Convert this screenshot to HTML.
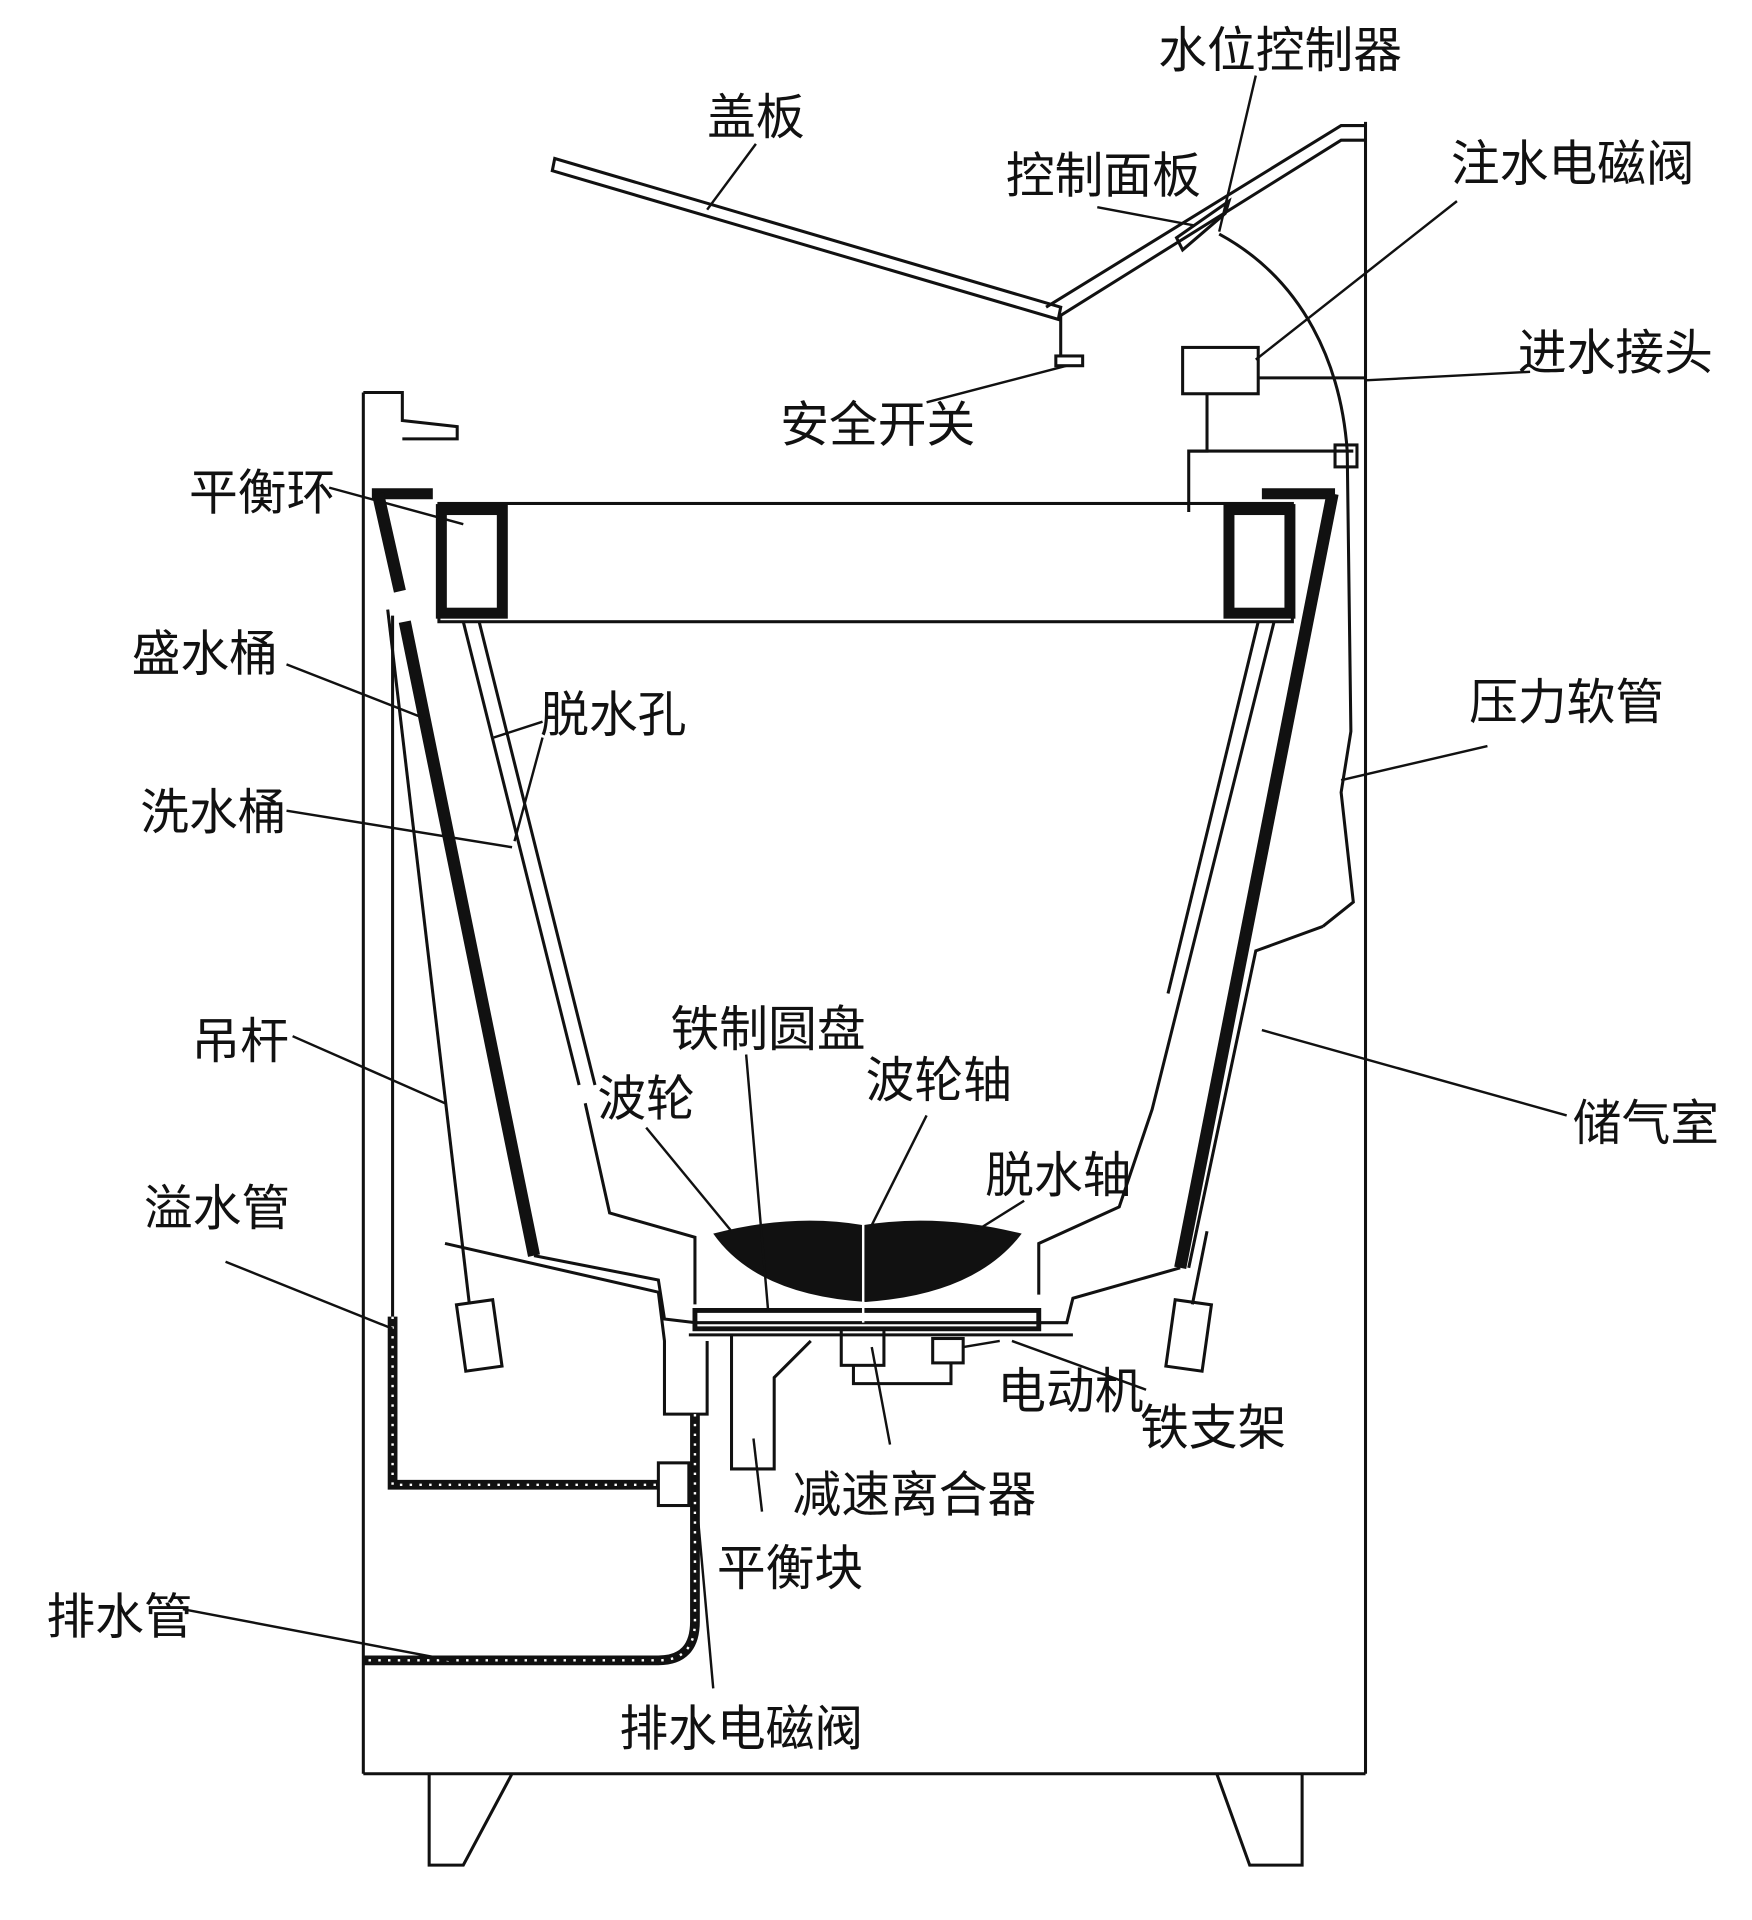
<!DOCTYPE html>
<html><head><meta charset="utf-8"><style>
html,body{margin:0;padding:0;background:#fff;width:1752px;height:1920px;overflow:hidden}
svg{display:block}
text{font-family:"Liberation Sans","Noto Sans CJK SC",sans-serif;font-size:40px;fill:#111}
</style></head><body>
<svg width="1752" height="1920" viewBox="0 0 1437 1575" preserveAspectRatio="none" xmlns="http://www.w3.org/2000/svg">
<g fill="none" stroke="#111" stroke-width="2.5">
<!-- cabinet -->
<polyline points="298,322 330,322 330,345 375,350 375,360 330,360"/>
<line x1="298" y1="322" x2="298" y2="1455"/>
<line x1="1120" y1="100" x2="1120" y2="1455"/>
<line x1="298" y1="1455" x2="1120" y2="1455"/>
<polyline points="352,1455 352,1530 380,1530 420,1455"/>
<polyline points="998,1455 1025,1530 1068,1530 1068,1455"/>
<!-- lid -->
<polygon points="455,130 870,252 868,262 453,140"/>
<line x1="870" y1="258" x2="870" y2="292"/><rect x="866" y="292" width="22" height="8"/>
<!-- control panel -->
<polyline points="858,252 1100,103 1120,103"/>
<polyline points="868,260 1100,115 1120,115"/>
<polygon points="965,195 1008,165 1005,175 970,205"/>
<!-- water level tube -->
<path d="M1000,192 C1070,230 1100,300 1105,370 L1108,600 1100,650 1110,740 1085,760"/>
<!-- inlet valve -->
<rect x="970" y="285" width="62" height="38"/>
<line x1="1032" y1="310" x2="1120" y2="310"/>
<polyline points="990,323 990,370 975,370 975,420"/>
<polyline points="975,370 1110,370"/>
<rect x="1095" y="365" width="18" height="18"/>
<!-- tub top -->
<rect x="360" y="413" width="700" height="97"/>
</g>
<g fill="none" stroke="#111" stroke-width="9">
<rect x="362" y="418" width="50" height="85"/>
<rect x="1008" y="418" width="50" height="85"/>
<polyline points="305,405 355,405"/>
<polyline points="1035,405 1095,405"/>
</g>
<g fill="none" stroke="#111" stroke-width="10">
<line x1="310" y1="405" x2="328" y2="485"/>
<line x1="332" y1="510" x2="438" y2="1030"/>
<line x1="1093" y1="405" x2="968" y2="1040"/>
</g>
<g fill="none" stroke="#111" stroke-width="2.5">
<!-- inner tub -->
<polyline points="380,510 475,890"/><polyline points="480,905 500,995 570,1015 570,1070"/>
<polyline points="1045,510 945,910 918,990 852,1020 852,1062"/>
<polyline points="393,510 488,890"/>
<polyline points="1032,510 958,815"/>
<!-- air chamber -->
<polyline points="1085,760 1030,780 975,1040"/>
<!-- outer bottom -->
<polyline points="438,1030 540,1050 545,1082 570,1085"/>
<polyline points="968,1040 880,1065 875,1085 570,1085"/>
<polygon points="570,1075 852,1075 852,1090 570,1090" stroke-width="4"/>
<polyline points="565,1095 880,1095"/>
<!-- hanger rods -->
<line x1="318" y1="500" x2="385" y2="1070"/>
<rect x="378" y="1068" width="30" height="55" transform="rotate(-8 393 1095)"/>
<rect x="960" y="1068" width="30" height="55" transform="rotate(8 975 1095)"/>
<line x1="990" y1="1010" x2="978" y2="1070"/>
<!-- overflow -->
<polyline points="365,1020 540,1060 545,1100 545,1160 580,1160 580,1100"/>
<line x1="322" y1="505" x2="322" y2="1218"/>
<rect x="540" y="1200" width="25" height="35"/>
<!-- balance block -->
<polyline points="600,1095 600,1205 635,1205 635,1130 665,1100"/>
<!-- motor -->
<rect x="690" y="1090" width="35" height="30"/>
<rect x="765" y="1098" width="25" height="20"/>
<polyline points="700,1120 700,1135 780,1135 780,1118"/>
<!-- legs/ ring -->
</g>
<!-- hoses thick -->
<g fill="none" stroke="#111" stroke-width="8">
<polyline points="322,1080 322,1218 540,1218"/>
<path d="M570,1160 L570,1330 Q570,1362 540,1362 L298,1362"/>
</g>
<g fill="none" stroke="#fff" stroke-width="2" stroke-dasharray="2,6">
<polyline points="322,1080 322,1218 540,1218"/>
<path d="M570,1160 L570,1330 Q570,1362 540,1362 L298,1362"/>
</g>
<!-- pulsator -->
<path d="M585,1012 Q650,995 708,1005 Q770,995 838,1012 Q800,1062 710,1068 Q620,1062 585,1012 Z" fill="#111"/>
<line x1="708" y1="990" x2="708" y2="1085" stroke="#fff" stroke-width="2"/>
<!-- leader lines -->
<g stroke="#111" stroke-width="2" fill="none">
<line x1="620" y1="118" x2="580" y2="172"/>
<line x1="1030" y1="62" x2="1000" y2="190"/>
<line x1="900" y1="170" x2="980" y2="185"/>
<line x1="1195" y1="165" x2="1030" y2="295"/>
<line x1="1255" y1="305" x2="1120" y2="312"/>
<line x1="760" y1="330" x2="875" y2="300"/>
<line x1="270" y1="400" x2="380" y2="430"/>
<line x1="235" y1="545" x2="350" y2="590"/>
<line x1="445" y1="592" x2="405" y2="605"/>
<line x1="445" y1="605" x2="422" y2="690"/>
<line x1="235" y1="665" x2="420" y2="695"/>
<line x1="1220" y1="612" x2="1100" y2="640"/>
<line x1="1285" y1="915" x2="1035" y2="845"/>
<line x1="240" y1="850" x2="365" y2="905"/>
<line x1="185" y1="1035" x2="322" y2="1090"/>
<line x1="530" y1="925" x2="600" y2="1010"/>
<line x1="612" y1="865" x2="630" y2="1075"/>
<line x1="760" y1="915" x2="715" y2="1005"/>
<line x1="840" y1="985" x2="800" y2="1010"/>
<line x1="820" y1="1100" x2="790" y2="1105"/>
<line x1="940" y1="1140" x2="830" y2="1100"/>
<line x1="715" y1="1105" x2="730" y2="1185"/>
<line x1="625" y1="1240" x2="618" y2="1180"/>
<line x1="150" y1="1320" x2="370" y2="1362"/>
<line x1="585" y1="1385" x2="572" y2="1240"/>
</g>
<!-- labels -->
<text x="580" y="110">盖板</text>
<text x="950" y="55">水位控制器</text>
<text x="825" y="158">控制面板</text>
<text x="1190" y="148">注水电磁阀</text>
<text x="1245" y="303">进水接头</text>
<text x="640" y="362">安全开关</text>
<text x="155" y="418">平衡环</text>
<text x="108" y="550">盛水桶</text>
<text x="443" y="600">脱水孔</text>
<text x="115" y="680">洗水桶</text>
<text x="1205" y="590">压力软管</text>
<text x="157" y="868">吊杆</text>
<text x="550" y="858">铁制圆盘</text>
<text x="490" y="915">波轮</text>
<text x="710" y="900">波轮轴</text>
<text x="808" y="978">脱水轴</text>
<text x="1290" y="935">储气室</text>
<text x="118" y="1005">溢水管</text>
<text x="818" y="1155">电动机</text>
<text x="935" y="1185">铁支架</text>
<text x="650" y="1240">减速离合器</text>
<text x="588" y="1300">平衡块</text>
<text x="38" y="1340">排水管</text>
<text x="508" y="1432">排水电磁阀</text>
</svg>
</body></html>
